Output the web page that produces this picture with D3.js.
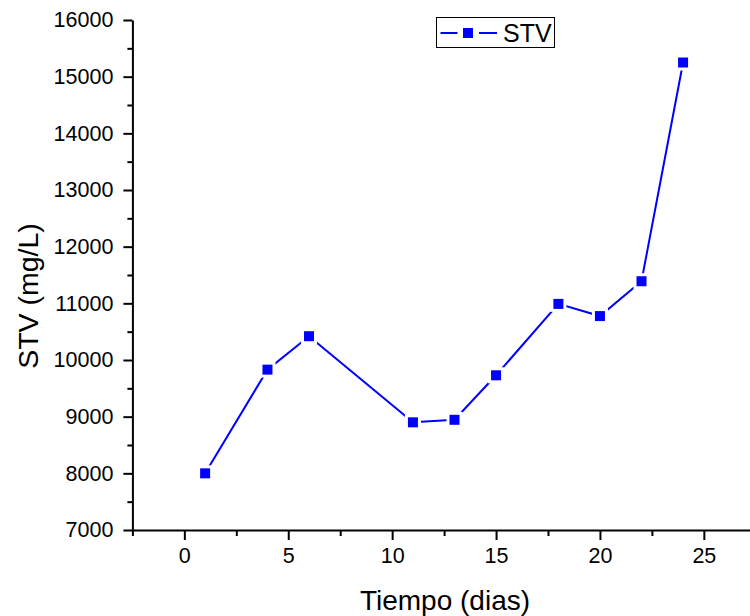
<!DOCTYPE html>
<html>
<head>
<meta charset="utf-8">
<script src="https://cdn.jsdelivr.net/npm/d3@7"></script>
<style>
  html, body { margin: 0; padding: 0; background: #fff; }
  svg { display: block; font-family: "Liberation Sans", Arial, sans-serif; }
</style>
</head>
<body>
<svg id="chart" width="750" height="616"></svg>
<script>
const days = [1, 4, 6, 11, 13, 15, 18, 20, 22, 24];
const stv = [8000, 9830, 10420, 8900, 8945, 9730, 10990, 10775, 11390, 15250];
const xTicks = [0, 5, 10, 15, 20, 25];
const yTicks = [7000, 8000, 9000, 10000, 11000, 12000, 13000, 14000, 15000, 16000];
const seriesName = "STV";
const xTitle = "Tiempo (dias)";
const yTitle = "STV (mg/L)";

const svg = d3.select("#chart");
const x = d3.scaleLinear().domain([-2.5, 27.5]).range([132.4, 755.8]);
const y = d3.scaleLinear().domain([7000, 16000]).range([530, 20]);
const color = "#0000ff";

// minor ticks
const xMinor = d3.range(-2.5, 27.6, 2.5).filter(v => Math.abs(v % 5) > 1e-6);
const yMinor = d3.range(7500, 16000, 1000);

const gx = svg.append("g").attr("transform", `translate(0,${y(7000)})`);
gx.call(d3.axisBottom(x).tickValues(xMinor).tickSize(6).tickFormat(""))
  .call(g => g.select(".domain").remove());
gx.append("g").call(d3.axisBottom(x).tickValues(xTicks).tickSize(10).tickSizeOuter(0).tickPadding(8).tickFormat(d3.format("d")))
  .call(g => g.select(".domain").attr("stroke-width", 2));
gx.selectAll(".tick line").attr("stroke", "#000").attr("stroke-width", 2);
gx.selectAll("text").attr("font-size", 21.5).attr("fill", "#000").attr("font-family", "Liberation Sans, Arial, sans-serif");

const gy = svg.append("g").attr("transform", `translate(${x(-2.5)},0)`);
gy.call(d3.axisLeft(y).tickValues(yMinor).tickSize(5).tickFormat(""))
  .call(g => g.select(".domain").remove());
gy.append("g").call(d3.axisLeft(y).tickValues(yTicks).tickSize(9).tickSizeOuter(0).tickPadding(10).tickFormat(d3.format("d")))
  .call(g => g.select(".domain").attr("stroke-width", 2));
gy.selectAll(".tick line").attr("stroke", "#000").attr("stroke-width", 2);
gy.selectAll("text").attr("font-size", 21.5).attr("fill", "#000").attr("font-family", "Liberation Sans, Arial, sans-serif");

// titles
svg.append("text").attr("x", 445).attr("y", 610)
  .attr("text-anchor", "middle").attr("font-size", 28).text(xTitle);
svg.append("text").attr("transform", `translate(38,296) rotate(-90)`)
  .attr("text-anchor", "middle").attr("font-size", 28.5).text(yTitle);

// data
const data = days.map((d, i) => ({ x: d, y: stv[i] }));
svg.append("path").datum(data)
  .attr("fill", "none").attr("stroke", color).attr("stroke-width", 2)
  .attr("d", d3.line().x(d => x(d.x)).y(d => y(d.y)));

const ms = 10, gap = 3;
svg.append("g").selectAll("rect.bg").data(data).join("rect")
  .attr("x", d => x(d.x) - ms / 2 - gap).attr("y", d => y(d.y) - ms / 2 - gap)
  .attr("width", ms + 2 * gap).attr("height", ms + 2 * gap).attr("fill", "#fff");
svg.append("g").selectAll("rect.m").data(data).join("rect")
  .attr("x", d => x(d.x) - ms / 2).attr("y", d => y(d.y) - ms / 2)
  .attr("width", ms).attr("height", ms).attr("fill", color);

// legend
const lg = svg.append("g");
lg.append("rect").attr("x", 436.5).attr("y", 17.5).attr("width", 118).attr("height", 30)
  .attr("fill", "#fff").attr("stroke", "#000").attr("stroke-width", 1);
lg.append("line").attr("x1", 440.5).attr("x2", 457.5).attr("y1", 33).attr("y2", 33).attr("stroke", color).attr("stroke-width", 2);
lg.append("line").attr("x1", 479).attr("x2", 497).attr("y1", 33).attr("y2", 33).attr("stroke", color).attr("stroke-width", 2);
lg.append("rect").attr("x", 463).attr("y", 28).attr("width", 10).attr("height", 10).attr("fill", color);
lg.append("text").attr("x", 503).attr("y", 42).attr("font-size", 25).text(seriesName);
</script>
</body>
</html>
